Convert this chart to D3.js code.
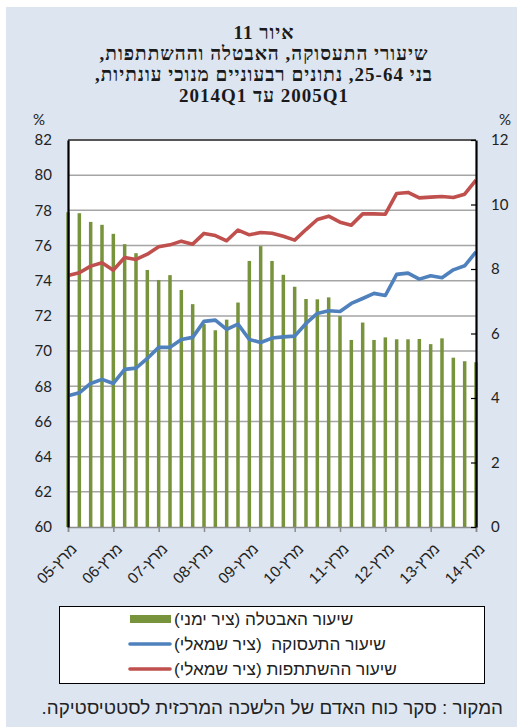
<!DOCTYPE html>
<html>
<head>
<meta charset="utf-8">
<script src="https://cdn.jsdelivr.net/npm/d3@7"></script>
<style>
  body { margin: 0; background: #fff; }
  text { white-space: pre; }
</style>
</head>
<body>
<script>
// quarterly, seasonally adjusted, ages 25-64
const quarters = ['2005Q1','2005Q2','2005Q3','2005Q4','2006Q1','2006Q2','2006Q3','2006Q4',
  '2007Q1','2007Q2','2007Q3','2007Q4','2008Q1','2008Q2','2008Q3','2008Q4',
  '2009Q1','2009Q2','2009Q3','2009Q4','2010Q1','2010Q2','2010Q3','2010Q4',
  '2011Q1','2011Q2','2011Q3','2011Q4','2012Q1','2012Q2','2012Q3','2012Q4',
  '2013Q1','2013Q2','2013Q3','2013Q4','2014Q1']
const tickQuarters = ['2005Q1','2006Q1','2007Q1','2008Q1','2009Q1','2010Q1','2011Q1','2012Q1','2013Q1','2014Q1']
const tickLabels = ['מרץ-05','מרץ-06','מרץ-07','מרץ-08','מרץ-09','מרץ-10','מרץ-11','מרץ-12','מרץ-13','מרץ-14']

// unemployment rate (right axis)
const unemployment = [9.76, 9.73, 9.46, 9.37, 9.09, 8.77, 8.49, 7.97, 7.66, 7.81, 7.35, 6.91,
  6.29, 6.10, 6.43, 6.96, 8.25, 8.71, 8.25, 7.82, 7.45, 7.07, 7.06, 7.12,
  6.54, 5.80, 6.34, 5.80, 5.88, 5.82, 5.82, 5.83, 5.67, 5.85, 5.25, 5.14, 5.11]
// employment rate (left axis)
const employment = [67.46, 67.63, 68.16, 68.39, 68.16, 68.96, 69.03, 69.58, 70.21, 70.21, 70.66, 70.78,
  71.69, 71.76, 71.23, 71.53, 70.66, 70.49, 70.74, 70.81, 70.85, 71.57, 72.14, 72.29,
  72.25, 72.71, 72.99, 73.28, 73.16, 74.36, 74.43, 74.09, 74.28, 74.17, 74.62, 74.85, 75.64]
// participation rate (left axis)
const participation = [74.30, 74.45, 74.83, 75.02, 74.60, 75.32, 75.21, 75.51, 75.93, 76.04, 76.25, 76.08,
  76.69, 76.57, 76.27, 76.88, 76.61, 76.74, 76.70, 76.53, 76.31, 76.91, 77.48, 77.67,
  77.33, 77.16, 77.80, 77.80, 77.78, 78.96, 79.02, 78.71, 78.75, 78.79, 78.73, 78.92, 79.72]

const leftTicks = [60, 62, 64, 66, 68, 70, 72, 74, 76, 78, 80, 82]
const rightTicks = [0, 2, 4, 6, 8, 10, 12]

const titleLines = ['איור 11', 'שיעורי התעסוקה, האבטלה וההשתתפות,', 'בני 25-64, נתונים רבעוניים מנוכי עונתיות,', '2005Q1 עד 2014Q1']
const legendLabels = ['שיעור האבטלה (ציר ימני)', 'שיעור התעסוקה  (ציר שמאלי)', 'שיעור ההשתתפות (ציר שמאלי)']
const sourceText = 'המקור : סקר כוח האדם של הלשכה המרכזית לסטטיסטיקה.'

const width = 517
const height = 727
const plot = {left: 68, right: 476, top: 140, bottom: 527}

const green = '#77933c', blue = '#4f81bd', red = '#c0504d'
const numFont = 'Lato, "Open Sans", sans-serif'
const hebFont = '"Liberation Sans", "DejaVu Sans", Arial, sans-serif'
const titleFont = '"Liberation Serif", "DejaVu Serif", serif'

const x = d3.scalePoint().domain(quarters).range([plot.left, plot.right])
const yL = d3.scaleLinear().domain([60, 82]).range([plot.bottom, plot.top])
const yR = d3.scaleLinear().domain([0, 12]).range([plot.bottom, plot.top])

const svg = d3.select('body').append('svg').attr('width', width).attr('height', height)

svg.append('rect').attr('x', 6).attr('y', 7).attr('width', width - 6).attr('height', height - 7).attr('fill', '#dde5f1')

// title
svg.append('g').selectAll('text')
  .data(titleLines)
  .enter().append('text')
    .attr('x', 264)
    .attr('y', (d, i) => 39 + i * 21.1)
    .attr('text-anchor', 'middle')
    .attr('direction', 'rtl')
    .attr('font-family', titleFont)
    .attr('font-weight', 'bold')
    .attr('font-size', 19)
    .attr('letter-spacing', 1)
    .attr('fill', '#1a1a1a')
    .text(d => d)

svg.append('text').attr('x', 39).attr('y', 125).attr('text-anchor', 'middle')
  .attr('font-family', numFont).attr('font-size', 15).attr('fill', '#222').text('%')
svg.append('text').attr('x', 505).attr('y', 125).attr('text-anchor', 'middle')
  .attr('font-family', numFont).attr('font-size', 15).attr('fill', '#222').text('%')

svg.append('rect').attr('x', plot.left).attr('y', plot.top)
  .attr('width', plot.right - plot.left).attr('height', plot.bottom - plot.top).attr('fill', '#fff')

// gridlines
svg.append('g').selectAll('line')
  .data(leftTicks.slice(1))
  .enter().append('line')
    .attr('x1', plot.left).attr('x2', plot.right)
    .attr('y1', d => yL(d)).attr('y2', d => yL(d))
    .attr('stroke', d => d === 82 ? '#555' : '#a5a5a5')
    .attr('stroke-width', d => d === 82 ? 2 : 1.5)

// bars
svg.append('g').selectAll('rect')
  .data(unemployment)
  .enter().append('rect')
    .attr('x', (d, i) => x(quarters[i]) - 1.75)
    .attr('width', 3.5)
    .attr('y', d => yR(d))
    .attr('height', d => yR(0) - yR(d))
    .attr('fill', green)

const line = d3.line().x((d, i) => x(quarters[i])).y(d => yL(d))

svg.append('path').datum(employment).attr('d', line)
  .attr('fill', 'none').attr('stroke', blue).attr('stroke-width', 3.6).attr('stroke-linejoin', 'round')
svg.append('path').datum(participation).attr('d', line)
  .attr('fill', 'none').attr('stroke', red).attr('stroke-width', 3.6).attr('stroke-linejoin', 'round')

// axes
const bottom = svg.append('g').attr('transform', 'translate(0,' + plot.bottom + ')')
  .call(d3.axisBottom(x).tickValues(tickQuarters).tickSize(5).tickFormat(''))
bottom.select('.domain').attr('stroke', '#8c8c8c').attr('stroke-width', 1.5)
bottom.selectAll('.tick line').attr('stroke', '#8c8c8c').attr('stroke-width', 1.5)

svg.append('g').selectAll('text')
  .data(tickQuarters)
  .enter().append('text')
    .attr('transform', d => 'translate(' + (x(d) + 6) + ',546) rotate(-45)')
    .attr('text-anchor', 'end')
    .attr('dominant-baseline', 'central')
    .attr('font-family', hebFont)
    .attr('font-size', 15.5)
    .attr('fill', '#222')
    .text((d, i) => tickLabels[i])

const left = svg.append('g').attr('transform', 'translate(' + plot.left + ',0)')
  .call(d3.axisLeft(yL).tickValues(leftTicks).tickSize(0).tickPadding(16))
left.select('.domain').attr('stroke', '#000').attr('stroke-width', 2.2)
left.selectAll('text').attr('font-family', numFont).attr('font-size', 15).attr('fill', '#222')

const right = svg.append('g').attr('transform', 'translate(' + plot.right + ',0)')
  .call(d3.axisRight(yR).tickValues(rightTicks).tickSizeInner(-5).tickSizeOuter(0).tickPadding(15))
right.select('.domain').attr('stroke', '#000').attr('stroke-width', 2.2)
right.selectAll('.tick line').attr('stroke', '#000').attr('stroke-width', 1.2)
right.selectAll('text').attr('font-family', numFont).attr('font-size', 15).attr('fill', '#222')

// legend
svg.append('rect').attr('x', 59.5).attr('y', 606.5).attr('width', 425).attr('height', 77)
  .attr('fill', '#fff').attr('stroke', '#000').attr('stroke-width', 1)

const rowY = [619, 644, 669]
svg.append('rect').attr('x', 130).attr('y', rowY[0] - 4).attr('width', 41).attr('height', 8).attr('fill', green)
svg.append('line').attr('x1', 130).attr('x2', 170).attr('y1', rowY[1]).attr('y2', rowY[1])
  .attr('stroke', blue).attr('stroke-width', 3.6).attr('stroke-linecap', 'round')
svg.append('line').attr('x1', 130).attr('x2', 170).attr('y1', rowY[2]).attr('y2', rowY[2])
  .attr('stroke', red).attr('stroke-width', 3.6).attr('stroke-linecap', 'round')

svg.append('g').selectAll('text')
  .data(legendLabels)
  .enter().append('text')
    .attr('x', 400)
    .attr('y', (d, i) => rowY[i])
    .attr('direction', 'rtl')
    .attr('dominant-baseline', 'central')
    .attr('font-family', hebFont)
    .attr('font-size', 17.2)
    .attr('fill', '#222')
    .text(d => d)
    .each(function() {
      const b = this.getBBox()
      d3.select(this).attr('x', +d3.select(this).attr('x') + (174 - b.x))
    })

svg.append('text')
  .attr('x', 500).attr('y', 714)
  .attr('direction', 'rtl')
  .attr('font-family', hebFont)
  .attr('font-size', 18.8)
  .attr('fill', '#222')
  .text(sourceText)
  .each(function() {
    const b = this.getBBox()
    d3.select(this).attr('x', 500 + (503 - (b.x + b.width)))
  })
</script>
</body>
</html>
